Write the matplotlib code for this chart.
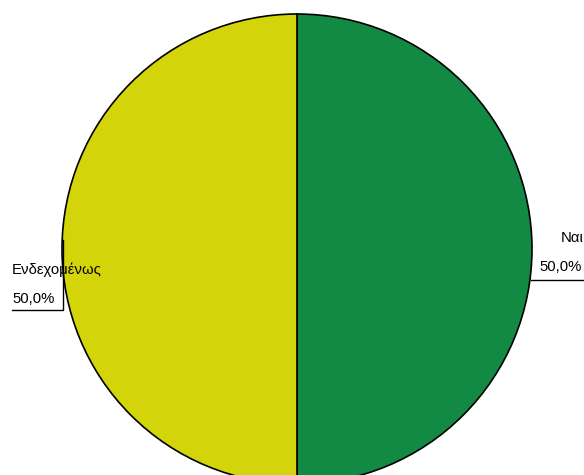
import matplotlib.pyplot as plt

# data
labels = ['Ναι', 'Ενδεχομένως']
values = [50.0, 50.0]
colors = ['#138a43', '#d4d40a']

W, H = 584, 475

def py(y):
    # pixel row (from top) -> data y
    return H - y

fig = plt.figure(figsize=(W / 100, H / 100), dpi=100)
ax = fig.add_axes([0, 0, 1, 1])

ax.pie(values, colors=colors, startangle=90, counterclock=False,
       center=(297, py(249)), radius=235,
       wedgeprops={'edgecolor': 'black', 'linewidth': 1.2})
ax.set_aspect('auto')
ax.set_xlim(0, W)
ax.set_ylim(0, H)
ax.axis('off')

font = {'family': ['Liberation Sans', 'DejaVu Sans'], 'fontsize': 10.7}

# right label (Ναι)
ax.text(561, py(242), labels[0], **font)
ax.text(539, py(271), f'{values[0]:.1f}%'.replace('.', ','), **font)
ax.plot([531, W], [py(280), py(280)], color='black', lw=1)

# left label (Ενδεχομένως)
ax.text(12, py(274), labels[1], **font)
ax.text(12, py(303), f'{values[1]:.1f}%'.replace('.', ','), **font)
ax.plot([63, 63, 12], [py(240), py(310), py(310)], color='black', lw=1)

plt.savefig('out.png', dpi=100)
